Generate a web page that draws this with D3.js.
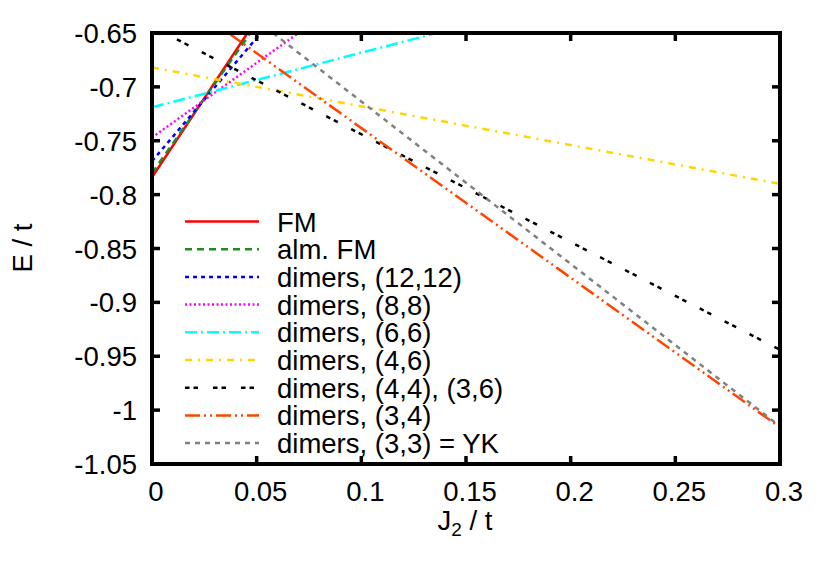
<!DOCTYPE html>
<html>
<head>
<meta charset="utf-8">
<script src="https://cdn.jsdelivr.net/npm/d3@7"></script>
<style>
  html, body { margin: 0; padding: 0; background: #fff; }
  svg text { font-family: "Liberation Sans", Arial, Helvetica, sans-serif; fill: #000; }
</style>
</head>
<body>
<svg id="chart" width="830" height="581"></svg>
<script>
// ---- data ----
const xTicks = [0, 0.05, 0.1, 0.15, 0.2, 0.25, 0.3];
const xTickLabels = ["0", "0.05", "0.1", "0.15", "0.2", "0.25", "0.3"];
const yTicks = [-0.65, -0.7, -0.75, -0.8, -0.85, -0.9, -0.95, -1, -1.05];
const yTickLabels = ["-0.65", "-0.7", "-0.75", "-0.8", "-0.85", "-0.9", "-0.95", "-1", "-1.05"];

const seriesNames = ["FM", "alm. FM", "dimers, (12,12)", "dimers, (8,8)", "dimers, (6,6)",
                     "dimers, (4,6)", "dimers, (4,4), (3,6)", "dimers, (3,4)", "dimers, (3,3) = YK"];
// each series: [J2, E] points
const fm      = [[0, -0.784], [0.0456, -0.65]];
const almFm   = [[0, -0.780], [0.047, -0.65]];
const d12_12  = [[0, -0.769], [0.052, -0.65]];
const d8_8    = [[0, -0.747], [0.070, -0.65]];
const d6_6    = [[0, -0.719], [0.136, -0.65]];
const d4_6    = [[0, -0.682], [0.3, -0.790]];
const d4_4    = [[0, -0.644], [0.3, -0.944]];
const d3_4    = [[0.0365, -0.65], [0.3, -1.016]];
const d3_3    = [[0.0578, -0.65], [0.3, -1.015]];
const seriesData = [fm, almFm, d12_12, d8_8, d6_6, d4_6, d4_4, d3_4, d3_3];

const seriesColors = ["#ff0000", "#228b22", "#0000ff", "#ff00ff", "#00ffff",
                      "#ffd700", "#000000", "#ff4500", "#808080"];
const seriesDash = ["none", "7,5", "4,4", "2,2.5", "12,4,2,4",
                    "7,6,2,6", "4.5,4,4.5,15", "15,4,2,4,2,4", "5,5"];

// ---- layout ----
const L = 152, R = 780, T = 33, B = 464;
const svg = d3.select("#chart");
const x = d3.scaleLinear().domain([0, 0.3]).range([L, R]);
const y = d3.scaleLinear().domain([-1.05, -0.65]).range([B, T]);
const FS = 27.5;
const LW = 2.5;

svg.append("defs").append("clipPath").attr("id", "clip")
  .append("rect").attr("x", L).attr("y", T).attr("width", R - L).attr("height", B - T);

// ---- lines ----
const line = d3.line().x(d => x(d[0])).y(d => y(d[1]));
const gLines = svg.append("g").attr("clip-path", "url(#clip)");
seriesData.forEach((s, i) => {
  gLines.append("path")
    .attr("d", line(s))
    .attr("fill", "none")
    .attr("stroke", seriesColors[i])
    .attr("stroke-width", LW)
    .attr("stroke-dasharray", seriesDash[i]);
});

// ---- legend ----
const legY0 = 221.5, legDy = 27.7;
const leg = svg.append("g");
seriesNames.forEach((name, i) => {
  const yy = legY0 + i * legDy;
  leg.append("line")
    .attr("x1", 185).attr("x2", 259).attr("y1", yy).attr("y2", yy)
    .attr("stroke", seriesColors[i]).attr("stroke-width", LW)
    .attr("stroke-dasharray", seriesDash[i]);
  leg.append("text")
    .attr("x", 277).attr("y", yy + 10)
    .attr("font-size", FS)
    .text(name);
});

// ---- frame & ticks ----
const tickLen = 8;
const gAx = svg.append("g");
xTicks.forEach((v, i) => {
  gAx.append("line").attr("x1", x(v)).attr("x2", x(v)).attr("y1", B).attr("y2", B - tickLen)
    .attr("stroke", "#000").attr("stroke-width", 3.5);
  gAx.append("line").attr("x1", x(v)).attr("x2", x(v)).attr("y1", T).attr("y2", T + tickLen)
    .attr("stroke", "#000").attr("stroke-width", 3.5);
  gAx.append("text").attr("x", x(v) + 4).attr("y", 501)
    .attr("text-anchor", "middle").attr("font-size", FS).text(xTickLabels[i]);
});
yTicks.forEach((v, i) => {
  gAx.append("line").attr("x1", L).attr("x2", L + tickLen).attr("y1", y(v)).attr("y2", y(v))
    .attr("stroke", "#000").attr("stroke-width", 3.5);
  gAx.append("line").attr("x1", R).attr("x2", R - tickLen).attr("y1", y(v)).attr("y2", y(v))
    .attr("stroke", "#000").attr("stroke-width", 3.5);
  gAx.append("text").attr("x", 137).attr("y", y(v) + 10)
    .attr("text-anchor", "end").attr("font-size", FS).text(yTickLabels[i]);
});
gAx.append("rect").attr("x", L).attr("y", T).attr("width", R - L).attr("height", B - T)
  .attr("fill", "none").attr("stroke", "#000").attr("stroke-width", 4);

// ---- axis titles ----
const xt = svg.append("text").attr("x", 465).attr("y", 530)
  .attr("text-anchor", "middle").attr("font-size", FS);
xt.append("tspan").text("J");
xt.append("tspan").attr("font-size", 19).attr("dy", 6).text("2");
xt.append("tspan").attr("dy", -6).text(" / t");

svg.append("text").attr("transform", "translate(32,248) rotate(-90)")
  .attr("text-anchor", "middle").attr("font-size", FS).text("E / t");
</script>
</body>
</html>
